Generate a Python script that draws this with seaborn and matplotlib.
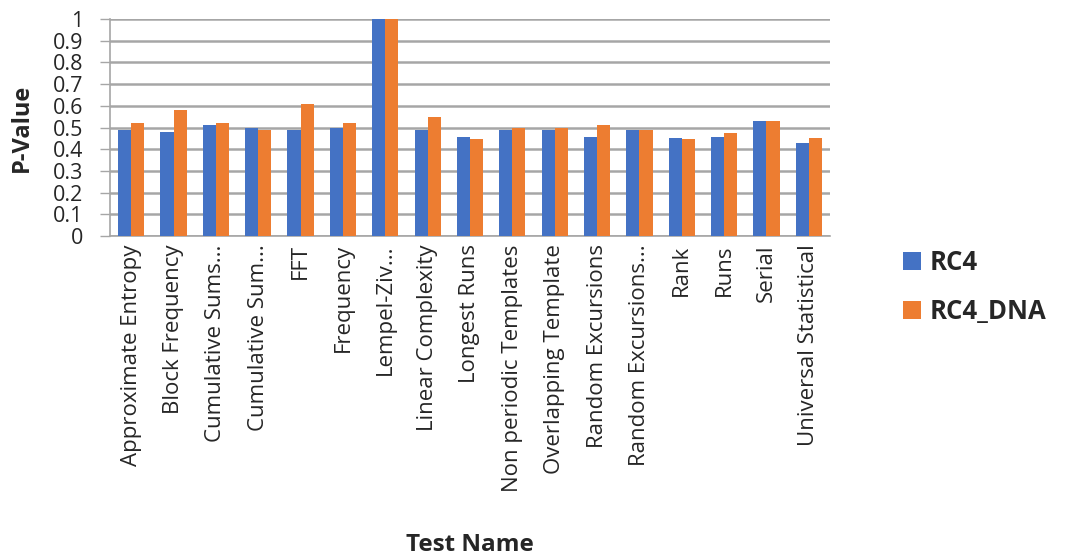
import matplotlib
matplotlib.use("Agg")
import matplotlib.pyplot as plt
import seaborn as sns
import pandas as pd
from matplotlib.patches import Patch

tests = ["Approximate Entropy", "Block Frequency", "Cumulative Sums...", "Cumulative Sum...",
         "FFT", "Frequency", "Lempel-Ziv...", "Linear Complexity", "Longest Runs",
         "Non periodic Templates", "Overlapping Template", "Random Excursions",
         "Random Excursions...", "Rank", "Runs", "Serial", "Universal Statistical"]
rc4 = [0.49, 0.48, 0.51, 0.50, 0.49, 0.50, 1.00, 0.49, 0.455, 0.49, 0.49, 0.455,
       0.49, 0.45, 0.455, 0.53, 0.43]
rc4_dna = [0.52, 0.58, 0.52, 0.49, 0.61, 0.52, 1.00, 0.55, 0.445, 0.50, 0.50, 0.51,
           0.487, 0.445, 0.475, 0.53, 0.45]
series = ["RC4", "RC4_DNA"]
colors = ["#4472C4", "#ED7D31"]

df = pd.DataFrame({"Test Name": tests * 2,
                   "P-Value": rc4 + rc4_dna,
                   "Series": [series[0]] * len(tests) + [series[1]] * len(tests)})

sns.set_theme(style="white")
plt.rcParams['font.family'] = ['Open Sans', 'DejaVu Sans']

fig = plt.figure(figsize=(10.71, 5.58), dpi=100)
ax = fig.add_axes([110 / 1071, 1 - 236 / 558, (830 - 110) / 1071, (236 - 19) / 558])

sns.barplot(data=df, x="Test Name", y="P-Value", hue="Series", palette=colors,
            saturation=1, width=0.62, ax=ax, legend=False, edgecolor="none", zorder=3)

ax.set_ylim(0, 1.0)
ax.set_xlim(-0.5, len(tests) - 0.5)
ax.set_yticks([i / 10 for i in range(11)])
ax.set_yticklabels(["0", "0.1", "0.2", "0.3", "0.4", "0.5", "0.6", "0.7", "0.8", "0.9", "1"],
                   fontsize=15.5)
ax.yaxis.grid(True, color="#a6a6a6", linewidth=1.8, zorder=0)
ax.set_axisbelow(True)
ax.tick_params(axis="y", length=7, color="#a6a6a6", width=1, pad=12, left=True)
ax.tick_params(axis="x", length=0, pad=6)
ax.set_xticks(range(len(tests)))
ax.set_xticklabels(tests, rotation=90, fontsize=16, ha="center", va="top")
for s in ["top", "right"]:
    ax.spines[s].set_visible(False)
ax.spines["left"].set_color("#a6a6a6")
ax.spines["bottom"].set_color("#a6a6a6")
ax.spines["left"].set_linewidth(1.2)
ax.spines["bottom"].set_linewidth(1.2)

ax.set_ylabel("P-Value", fontsize=17, fontweight="bold", va="center")
ax.yaxis.set_label_coords(-(110 - 22) / 720, 0.5)
ax.set_xlabel("Test Name", fontsize=17.5, fontweight="bold", va="center")
ax.xaxis.set_label_coords(0.5, -(545 - 236) / (236 - 19))

handles = [Patch(facecolor=c, edgecolor="none") for c in colors]
fig.legend(handles, series, loc="upper left", bbox_to_anchor=(880 / 1071, 1 - 226 / 558),
           frameon=False, prop={"size": 18.5, "weight": "bold"}, handlelength=0.7,
           handleheight=0.7, labelspacing=0.85, handletextpad=0.35)

fig.savefig("out.png", dpi=100)
